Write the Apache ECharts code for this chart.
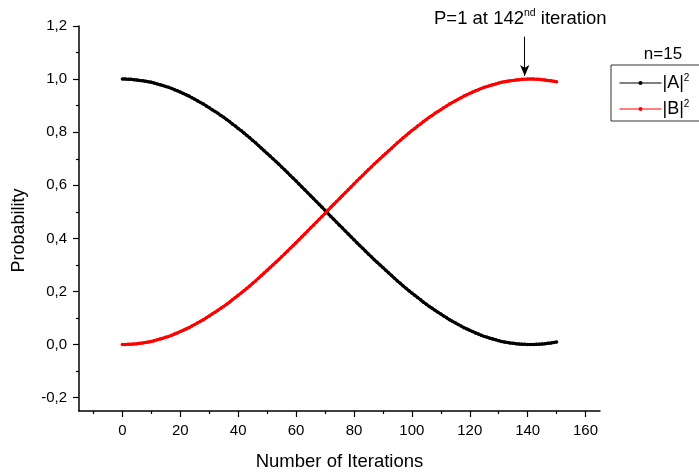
<!DOCTYPE html>
<html>
<head>
<meta charset="utf-8">
<script src="https://cdn.jsdelivr.net/npm/echarts@6/dist/echarts.min.js"></script>
<style>
  html, body { margin: 0; padding: 0; background: #fff; }
  #chart { width: 699px; height: 476px; }
</style>
</head>
<body>
<div id="chart"></div>
<script>
// Probability of each basis state per Grover-type iteration (n = 15)
const probA = [
  1.000,1.000,0.999,0.999,0.998,0.997,0.995,0.994,0.992,0.990,
  0.988,0.985,0.982,0.979,0.976,0.972,0.969,0.965,0.960,0.956,
  0.951,0.946,0.941,0.936,0.930,0.924,0.918,0.912,0.906,0.899,
  0.892,0.885,0.878,0.871,0.863,0.856,0.848,0.840,0.831,0.823,
  0.814,0.806,0.797,0.788,0.779,0.769,0.760,0.750,0.740,0.730,
  0.720,0.710,0.700,0.690,0.680,0.669,0.659,0.648,0.637,0.627,
  0.616,0.605,0.594,0.583,0.572,0.561,0.550,0.539,0.528,0.517,
  0.506,0.494,0.483,0.472,0.461,0.450,0.439,0.428,0.417,0.406,
  0.395,0.384,0.373,0.363,0.352,0.341,0.331,0.320,0.310,0.300,
  0.290,0.280,0.270,0.260,0.250,0.240,0.231,0.221,0.212,0.203,
  0.194,0.186,0.177,0.169,0.160,0.152,0.144,0.137,0.129,0.122,
  0.115,0.108,0.101,0.094,0.088,0.082,0.076,0.070,0.064,0.059,
  0.054,0.049,0.044,0.040,0.035,0.031,0.028,0.024,0.021,0.018,
  0.015,0.012,0.010,0.008,0.006,0.005,0.003,0.002,0.001,0.001,
  0.000,0.000,0.000,0.001,0.001,0.002,0.003,0.005,0.006,0.008,
  0.010
];
const probB = [
  0.000,0.000,0.001,0.001,0.002,0.003,0.005,0.006,0.008,0.010,
  0.012,0.015,0.018,0.021,0.024,0.028,0.031,0.035,0.040,0.044,
  0.049,0.054,0.059,0.064,0.070,0.076,0.082,0.088,0.094,0.101,
  0.108,0.115,0.122,0.129,0.137,0.144,0.152,0.160,0.169,0.177,
  0.186,0.194,0.203,0.212,0.221,0.231,0.240,0.250,0.260,0.270,
  0.280,0.290,0.300,0.310,0.320,0.331,0.341,0.352,0.363,0.373,
  0.384,0.395,0.406,0.417,0.428,0.439,0.450,0.461,0.472,0.483,
  0.494,0.506,0.517,0.528,0.539,0.550,0.561,0.572,0.583,0.594,
  0.605,0.616,0.627,0.637,0.648,0.659,0.669,0.680,0.690,0.700,
  0.710,0.720,0.730,0.740,0.750,0.760,0.769,0.779,0.788,0.797,
  0.806,0.814,0.823,0.831,0.840,0.848,0.856,0.863,0.871,0.878,
  0.885,0.892,0.899,0.906,0.912,0.918,0.924,0.930,0.936,0.941,
  0.946,0.951,0.956,0.960,0.965,0.969,0.972,0.976,0.979,0.982,
  0.985,0.988,0.990,0.992,0.994,0.995,0.997,0.998,0.999,0.999,
  1.000,1.000,1.000,0.999,0.999,0.998,0.997,0.995,0.994,0.992,
  0.990
];
const iterations = probA.map((_, i) => i);

const xMajorTicks = [0, 20, 40, 60, 80, 100, 120, 140, 160];
const xMinorTicks = [-10, 10, 30, 50, 70, 90, 110, 130, 150];
const yMajorTicks = [-0.2, 0, 0.2, 0.4, 0.6, 0.8, 1.0, 1.2];
const yMinorTicks = [-0.1, 0.1, 0.3, 0.5, 0.7, 0.9, 1.1];

const peakIteration = 139;   // where the arrow points
const FONT = 'Liberation Sans, Arial, sans-serif';

const chart = echarts.init(document.getElementById('chart'), null, { renderer: 'canvas' });

const axisLine = { show: true, onZero: false, lineStyle: { color: '#000', width: 1.5 } };
const tickLine = { color: '#000', width: 1.2 };

chart.setOption({
  animation: false,
  backgroundColor: '#fff',
  textStyle: { fontFamily: FONT },
  grid: { left: 79, right: 99, top: 26, bottom: 64 },
  xAxis: [
    {
      type: 'value', min: -15, max: 165, position: 'bottom',
      name: 'Number of Iterations', nameLocation: 'middle', nameGap: 41,
      nameTextStyle: { fontSize: 18.5, color: '#000', fontFamily: FONT },
      axisLine: axisLine,
      axisTick: { show: true, length: 6, customValues: xMajorTicks, lineStyle: tickLine },
      axisLabel: { customValues: xMajorTicks, fontSize: 15, color: '#000', margin: 12, fontFamily: FONT },
      splitLine: { show: false }
    },
    {
      type: 'value', min: -15, max: 165, position: 'bottom',
      axisLine: { show: false, onZero: false },
      axisTick: { show: true, length: 3, customValues: xMinorTicks, lineStyle: tickLine },
      axisLabel: { show: false },
      splitLine: { show: false }
    }
  ],
  yAxis: [
    {
      type: 'value', min: -0.25, max: 1.2, position: 'left',
      name: 'Probability', nameLocation: 'middle', nameGap: 51, nameRotate: 90,
      nameTextStyle: { fontSize: 18, color: '#000', fontFamily: FONT, padding: [0, 24, 0, 0] },
      axisLine: axisLine,
      axisTick: { show: true, length: 6, customValues: yMajorTicks, lineStyle: tickLine },
      axisLabel: { customValues: yMajorTicks, fontSize: 15, color: '#000', margin: 12, fontFamily: FONT,
                   formatter: v => v.toFixed(1).replace('.', ',') },
      splitLine: { show: false }
    },
    {
      type: 'value', min: -0.25, max: 1.2, position: 'left',
      axisLine: { show: false, onZero: false },
      axisTick: { show: true, length: 3, customValues: yMinorTicks, lineStyle: tickLine },
      axisLabel: { show: false },
      splitLine: { show: false }
    }
  ],
  legend: {
    orient: 'vertical',
    left: 611, top: 65,
    padding: [8, 40, 2, 8],
    borderColor: '#333', borderWidth: 1,
    itemWidth: 42, itemHeight: 5, itemGap: 6,
    data: ['A', 'B'],
    lineStyle: { width: 1 },
    itemStyle: { borderWidth: 0 },
    formatter: name => '{n||' + name + '|}{s|2}',
    textStyle: {
      color: '#000',
      padding: [0, 0, 0, -4],
      rich: {
        n: { fontSize: 18, color: '#000', fontFamily: FONT, lineHeight: 21 },
        s: { fontSize: 10, color: '#000', fontFamily: FONT, lineHeight: 21, padding: [0, 0, 10, 0] }
      }
    }
  },
  title: {
    text: 'n=15',
    left: 658, top: 41,
    textAlign: 'center',
    textStyle: { fontSize: 17, fontWeight: 'normal', color: '#000', fontFamily: FONT }
  },
  graphic: [
    {
      type: 'text',
      left: 434, top: 8,
      style: {
        text: '{a|P=1 at 142}{b|nd}{a| iteration}',
        rich: {
          a: { fontSize: 18.5, fill: '#000', fontFamily: FONT, lineHeight: 24 },
          b: { fontSize: 10.5, fill: '#000', fontFamily: FONT, lineHeight: 24, padding: [0, 0, 11, 0] }
        }
      }
    }
  ],
  series: [
    {
      name: 'A', type: 'line',
      xAxisIndex: 0, yAxisIndex: 0,
      data: iterations.map((x, i) => [x, probA[i]]),
      symbol: 'circle', symbolSize: 3.5, showSymbol: true,
      lineStyle: { color: '#000', width: 3 },
      itemStyle: { color: '#000' },
      z: 3
    },
    {
      name: 'B', type: 'line',
      xAxisIndex: 0, yAxisIndex: 0,
      data: iterations.map((x, i) => [x, probB[i]]),
      symbol: 'circle', symbolSize: 3.5, showSymbol: true,
      lineStyle: { color: '#ff0000', width: 3 },
      itemStyle: { color: '#ff0000' },
      z: 4,
      markLine: {
        silent: true,
        symbol: ['none', 'arrow'],
        symbolSize: [7, 11],
        label: { show: false },
        lineStyle: { color: '#000', width: 1, type: 'solid' },
        data: [[{ coord: [peakIteration, 1.16] }, { coord: [peakIteration, 1.012] }]]
      }
    }
  ]
});
</script>
</body>
</html>
